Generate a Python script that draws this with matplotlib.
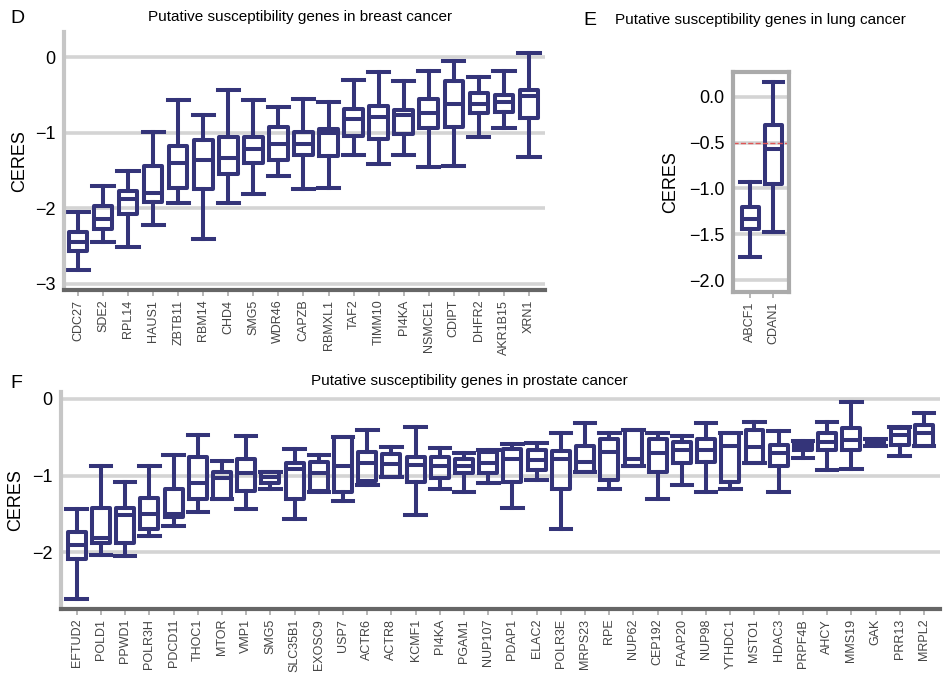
import matplotlib
matplotlib.use('Agg')
import matplotlib.pyplot as plt

plt.rcParams['font.family'] = ['Liberation Sans', 'DejaVu Sans']

# ---- panel D: breast cancer ----
genes_d = ['CDC27', 'SDE2', 'RPL14', 'HAUS1', 'ZBTB11', 'RBM14', 'CHD4', 'SMG5', 'WDR46', 'CAPZB',
           'RBMXL1', 'TAF2', 'TIMM10', 'PI4KA', 'NSMCE1', 'CDIPT', 'DHFR2', 'AKR1B15', 'XRN1']
lo_d  = [-2.81, -2.44, -2.51, -2.22, -1.93, -2.41, -1.93, -1.81, -1.57, -1.75, -1.73, -1.29, -1.41, -1.30, -1.45, -1.44, -1.06, -0.94, -1.32]
q1_d  = [-2.56, -2.27, -2.08, -1.92, -1.73, -1.74, -1.54, -1.40, -1.36, -1.30, -1.31, -1.04, -1.08, -1.02, -0.94, -0.92, -0.74, -0.73, -0.81]
med_d = [-2.45, -2.14, -1.88, -1.80, -1.40, -1.36, -1.33, -1.22, -1.15, -1.15, -1.01, -0.82, -0.79, -0.76, -0.74, -0.62, -0.62, -0.60, -0.51]
q3_d  = [-2.31, -1.97, -1.77, -1.44, -1.18, -1.10, -1.06, -1.06, -0.92, -0.99, -0.95, -0.69, -0.65, -0.70, -0.56, -0.32, -0.48, -0.50, -0.44]
hi_d  = [-2.05, -1.70, -1.51, -0.99, -0.57, -0.76, -0.43, -0.57, -0.66, -0.55, -0.60, -0.30, -0.20, -0.32, -0.19, -0.05, -0.26, -0.19, 0.05]

# ---- panel E: lung cancer ----
genes_e = ['ABCF1', 'CDAN1']
lo_e  = [-1.75, -1.48]
q1_e  = [-1.44, -0.95]
med_e = [-1.33, -0.57]
q3_e  = [-1.20, -0.31]
hi_e  = [-0.93, 0.16]
cutoff_e = -0.51

# ---- panel F: prostate cancer ----
genes_f = ['EFTUD2', 'POLD1', 'PPWD1', 'POLR3H', 'PDCD11', 'THOC1', 'MTOR', 'VMP1', 'SMG5', 'SLC35B1',
           'EXOSC9', 'USP7', 'ACTR6', 'ACTR8', 'KCMF1', 'PI4KA', 'PGAM1', 'NUP107', 'PDAP1', 'ELAC2',
           'POLR3E', 'MRPS23', 'RPE', 'NUP62', 'CEP192', 'FAAP20', 'NUP98', 'YTHDC1', 'MSTO1', 'HDAC3',
           'PRPF4B', 'AHCY', 'MMS19', 'GAK', 'PRR13', 'MRPL2']
lo_f  = [-2.61, -2.04, -2.05, -1.79, -1.66, -1.48, -1.31, -1.44, -1.17, -1.57,
         -1.21, -1.33, -1.12, -1.02, -1.52, -1.18, -1.21, -1.10, -1.42, -1.06,
         -1.69, -0.95, -1.18, -0.88, -1.31, -1.12, -1.21, -1.18, -0.84, -1.22,
         -0.77, -0.93, -0.92, -0.61, -0.74, -0.62]
q1_f  = [-2.09, -1.88, -1.88, -1.69, -1.54, -1.31, -1.31, -1.20, -1.10, -1.30,
         -1.20, -1.21, -1.07, -1.02, -1.08, -1.03, -0.97, -0.97, -1.08, -0.93,
         -1.18, -0.95, -1.06, -0.88, -0.95, -0.84, -0.82, -1.08, -0.84, -0.87,
         -0.66, -0.67, -0.67, -0.60, -0.60, -0.62]
med_f = [-1.91, -1.82, -1.52, -1.50, -1.50, -1.10, -1.03, -0.97, -1.02, -0.92,
         -0.97, -0.88, -0.84, -0.85, -0.86, -0.88, -0.88, -0.83, -0.78, -0.80,
         -0.78, -0.82, -0.69, -0.78, -0.71, -0.67, -0.67, -0.61, -0.63, -0.71,
         -0.62, -0.56, -0.53, -0.57, -0.47, -0.45]
q3_f  = [-1.73, -1.42, -1.42, -1.29, -1.18, -0.76, -0.95, -0.78, -0.95, -0.84,
         -0.82, -0.50, -0.69, -0.72, -0.76, -0.76, -0.78, -0.69, -0.65, -0.67,
         -0.68, -0.61, -0.52, -0.41, -0.52, -0.56, -0.52, -0.45, -0.41, -0.60,
         -0.57, -0.44, -0.38, -0.53, -0.38, -0.34]
hi_f  = [-1.44, -0.88, -1.08, -0.88, -0.73, -0.47, -0.81, -0.48, -0.95, -0.65,
         -0.73, -0.50, -0.41, -0.63, -0.36, -0.64, -0.71, -0.67, -0.59, -0.58,
         -0.45, -0.32, -0.45, -0.41, -0.45, -0.48, -0.32, -0.45, -0.30, -0.42,
         -0.55, -0.30, -0.04, -0.52, -0.36, -0.18]

navy = '#343479'
grid_c = '#d4d4d4'


def stats(genes, lo, q1, med, q3, hi):
    return [dict(label=g, whislo=a, q1=b, med=c, q3=d, whishi=e, fliers=[])
            for g, a, b, c, d, e in zip(genes, lo, q1, med, q3, hi)]


def draw(ax, st):
    lw = 2.9
    ax.bxp(st, positions=range(len(st)), widths=0.74, capwidths=0.85, showfliers=False,
           boxprops=dict(color=navy, lw=lw), medianprops=dict(color=navy, lw=lw),
           whiskerprops=dict(color=navy, lw=lw), capprops=dict(color=navy, lw=lw))
    ax.grid(axis='y', color=grid_c, lw=2.6)
    ax.set_axisbelow(True)
    ax.tick_params(axis='y', length=0, labelsize=13, pad=6)
    ax.tick_params(axis='x', length=4, color='#aaaaaa', width=1.2, labelsize=9,
                   labelcolor='#444444', rotation=90, pad=3)
    ax.set_ylabel('CERES', fontsize=13)
    for s in ['top', 'right']:
        ax.spines[s].set_visible(False)
    ax.spines['left'].set_color('#c6c6c6')
    ax.spines['left'].set_linewidth(3)
    ax.spines['bottom'].set_color('#666666')
    ax.spines['bottom'].set_linewidth(3)


fig = plt.figure(figsize=(9.45, 6.77), dpi=100)

axd = fig.add_axes([0.0677, 0.5716, 0.509, 0.381])
draw(axd, stats(genes_d, lo_d, q1_d, med_d, q3_d, hi_d))
axd.set_xlim(-0.56, 18.64)
axd.set_ylim(-3.08, 0.33)
axd.set_yticks([0, -1, -2, -3])
axd.yaxis.set_label_coords(-0.075, 0.5)

axe = fig.add_axes([0.7757, 0.5687, 0.0593, 0.325])
draw(axe, stats(genes_e, lo_e, q1_e, med_e, q3_e, hi_e))
axe.axhline(cutoff_e, color='#e05555', ls='--', lw=1.0, zorder=2.5)
axe.set_xlim(-0.74, 1.67)
axe.set_ylim(-2.13, 0.27)
axe.set_yticks([0.0, -0.5, -1.0, -1.5, -2.0])
axe.set_yticklabels(['0.0', '\u22120.5', '\u22121.0', '\u22121.5', '\u22122.0'])
for s in ['top', 'right', 'left', 'bottom']:
    axe.spines[s].set_visible(True)
    axe.spines[s].set_color('#aaaaaa')
    axe.spines[s].set_linewidth(3)
axe.yaxis.set_label_coords(-0.96, 0.5)

axf = fig.add_axes([0.0646, 0.1004, 0.930, 0.3205])
draw(axf, stats(genes_f, lo_f, q1_f, med_f, q3_f, hi_f))
axf.set_xlim(-0.65, 35.66)
axf.set_ylim(-2.74, 0.09)
axf.set_yticks([0, -1, -2])
axf.yaxis.set_label_coords(-0.042, 0.5)

fig.text(0.011, 0.973, 'D', fontsize=14, va='center')
fig.text(0.317, 0.975, 'Putative susceptibility genes in breast cancer', fontsize=11, ha='center', va='center')
fig.text(0.617, 0.969, 'E', fontsize=14, va='center')
fig.text(0.651, 0.971, 'Putative susceptibility genes in lung cancer', fontsize=11, va='center')
fig.text(0.011, 0.434, 'F', fontsize=14, va='center')
fig.text(0.497, 0.437, 'Putative susceptibility genes in prostate cancer', fontsize=11, ha='center', va='center')

fig.savefig('out.png', dpi=100)
